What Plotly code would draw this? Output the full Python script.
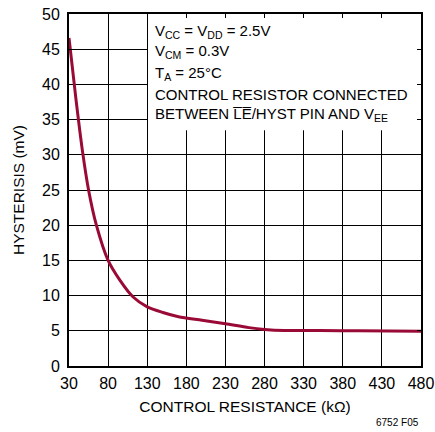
import plotly.graph_objects as go

# control resistance (kOhm) vs hysteresis (mV)
resistance = [30, 39, 47, 55, 65, 80, 95, 112, 130, 150, 170, 200, 230, 260, 280, 305, 350, 400, 480]
hysteresis = [46.6, 37.8, 30.7, 25.0, 20.0, 15.0, 12.2, 9.8, 8.4, 7.6, 7.0, 6.5, 6.0, 5.45, 5.2, 5.05, 5.05, 5.0, 4.95]

x_ticks = list(range(30, 481, 50))
y_ticks = list(range(0, 51, 5))

notes = [
    "V<sub>CC</sub> = V<sub>DD</sub> = 2.5V",
    "V<sub>CM</sub> = 0.3V",
    "T<sub>A</sub> = 25°C",
    "CONTROL RESISTOR CONNECTED",
    "BETWEEN L\u0305E\u0305/HYST PIN AND V<sub>EE</sub>",
]

FONT = "Liberation Sans, Arial, sans-serif"
RED = "#9a0a36"

W, H = 435, 432
L, R, T, B = 69, 14, 14, 66
PW, PH = W - L - R, H - T - B


def px(x):
    return (x - L) / PW


def py(y):
    return 1 - (y - T) / PH


fig = go.Figure()
fig.add_trace(go.Scatter(
    x=resistance, y=hysteresis, mode="lines",
    line=dict(color=RED, width=3, shape="spline", smoothing=0.8),
    showlegend=False, hoverinfo="skip",
))

# white box behind the condition notes, hides the grid there
fig.add_shape(type="rect", xref="x", yref="y", x0=131, x1=480, y0=33.5, y1=50,
              fillcolor="white", line=dict(width=0), layer="between")

note_y = [31, 52, 73, 94, 114]
for txt, y in zip(notes, note_y):
    fig.add_annotation(text=txt, xref="paper", yref="paper",
                       x=px(153), y=py(y),
                       xanchor="left", yanchor="middle", showarrow=False,
                       font=dict(family=FONT, size=15, color="black"))

fig.add_annotation(text="6752 F05", xref="paper", yref="paper",
                   x=px(421), y=py(422), xanchor="right", yanchor="middle",
                   showarrow=False, font=dict(family=FONT, size=10, color="black"))

axis_common = dict(showgrid=True, gridcolor="black", gridwidth=1,
                   showline=True, linecolor="black", linewidth=2, mirror="ticks",
                   ticks="inside", ticklen=4, tickcolor="black", tickwidth=1,
                   zeroline=False, automargin=False, ticklabeloverflow="allow",
                   tickfont=dict(family=FONT, size=16, color="black"))

fig.update_xaxes(range=[30, 480], tickvals=x_ticks, ticklabelstandoff=2,
                 title=dict(text="CONTROL RESISTANCE (kΩ)", font=dict(family=FONT, size=15.5, color="black"), standoff=10),
                 **axis_common)
fig.update_yaxes(range=[0, 50], tickvals=y_ticks, ticklabelstandoff=4,
                 title=dict(text="HYSTERISIS (mV)", font=dict(family=FONT, size=15.5, color="black"), standoff=14),
                 **axis_common)

fig.update_layout(
    width=W, height=H,
    margin=dict(l=L, r=R, t=T, b=B),
    plot_bgcolor="white", paper_bgcolor="white",
)

# drop the default 8px body margin so the figure sits at the page corner
fig.write_html("out.html", config={"displayModeBar": False},
               post_script="document.body.style.margin='0';")
